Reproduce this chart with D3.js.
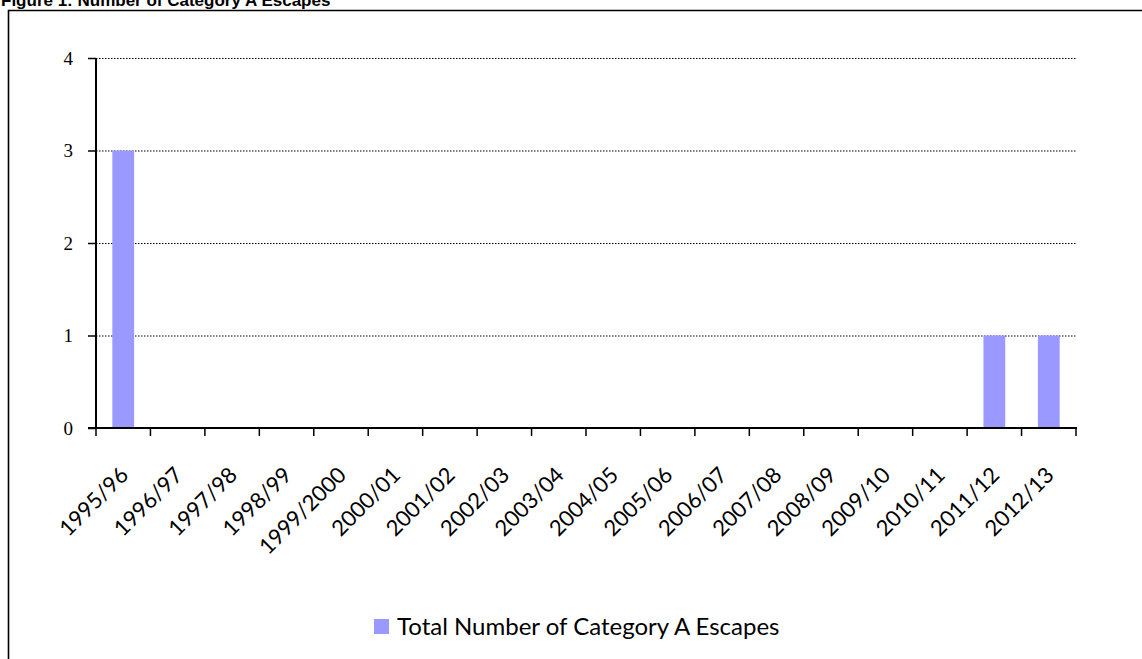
<!DOCTYPE html>
<html>
<head>
<meta charset="utf-8">
<script src="https://cdn.jsdelivr.net/npm/d3@7"></script>
<style>
  html, body { margin: 0; padding: 0; background: #fff; overflow: hidden; }
  svg { display: block; }
</style>
</head>
<body>
<svg id="chart" width="1142" height="659"></svg>
<script>
// data
const years = ['1995/96', '1996/97', '1997/98', '1998/99', '1999/2000', '2000/01',
  '2001/02', '2002/03', '2003/04', '2004/05', '2005/06', '2006/07', '2007/08',
  '2008/09', '2009/10', '2010/11', '2011/12', '2012/13'];
const escapes = [3, 0, 0, 0, 0, 0, 0, 0, 0, 0, 0, 0, 0, 0, 0, 0, 1, 1];
const yTicks = [0, 1, 2, 3, 4];
const seriesName = 'Total Number of Category A Escapes';

const svg = d3.select('#chart'),
      width = +svg.attr('width'),
      height = +svg.attr('height');

const plot = { left: 96, right: 1076, top: 58, bottom: 428 };
const barColor = '#9999ff';

// title, clipped by the top of the page like the original
svg.append('text')
  .attr('x', 1)
  .attr('y', 6)
  .attr('font-family', 'Liberation Sans, Arial, sans-serif')
  .attr('font-weight', 'bold')
  .attr('font-size', 17)
  .text('Figure 1: Number of Category A Escapes');

// frame around chart area (right and bottom edges run off the page)
svg.append('path')
  .attr('d', `M8.5,${height + 2}V10.5H${width + 2}`)
  .attr('fill', 'none')
  .attr('stroke', '#000')
  .attr('stroke-width', 1.6);

const x = d3.scaleBand()
  .domain(years)
  .range([plot.left, plot.right])
  .paddingInner(0.6)
  .paddingOuter(0.3);

const y = d3.scaleLinear()
  .domain([0, 4])
  .range([plot.bottom, plot.top]);

// dotted gridlines
svg.append('g')
  .selectAll('line')
  .data(yTicks.filter((d) => d > 0))
  .enter().append('line')
  .attr('x1', plot.left)
  .attr('x2', plot.right)
  .attr('y1', (d) => y(d) + 0.5)
  .attr('y2', (d) => y(d) + 0.5)
  .attr('stroke', '#000')
  .attr('stroke-width', 1)
  .attr('stroke-dasharray', '1.5,1.5');

// bars
svg.append('g')
  .selectAll('rect')
  .data(escapes)
  .enter().append('rect')
  .attr('x', (d, i) => x(years[i]))
  .attr('y', (d) => y(d))
  .attr('width', x.bandwidth())
  .attr('height', (d) => y(0) - y(d))
  .attr('fill', barColor);

// y axis
const yAxis = svg.append('g')
  .attr('transform', `translate(${plot.left},0)`)
  .call(d3.axisLeft(y).tickValues(yTicks).tickFormat(d3.format('d')).tickSize(8).tickPadding(15));
yAxis.select('.domain').attr('stroke-width', 2).attr('d', `M0,${plot.top}V${plot.bottom}`);
yAxis.selectAll('.tick line').attr('stroke-width', 1.5);
yAxis.selectAll('.tick text')
  .attr('font-family', 'Liberation Serif, Times New Roman, serif')
  .attr('font-size', 19)
  .attr('fill', '#000');

// x axis: ticks sit on category boundaries
const bounds = d3.range(years.length + 1).map((i) => plot.left + i * x.step());
const xAxis = svg.append('g');
xAxis.append('line')
  .attr('x1', plot.left - 8)
  .attr('x2', plot.right + 1)
  .attr('y1', plot.bottom)
  .attr('y2', plot.bottom)
  .attr('stroke', '#000')
  .attr('stroke-width', 2);
xAxis.selectAll('line.tick')
  .data(bounds)
  .enter().append('line')
  .attr('class', 'tick')
  .attr('x1', (d) => d)
  .attr('x2', (d) => d)
  .attr('y1', plot.bottom)
  .attr('y2', plot.bottom + 8)
  .attr('stroke', '#000')
  .attr('stroke-width', 1.5);

xAxis.selectAll('text')
  .data(years)
  .enter().append('text')
  .attr('transform', (d) => `translate(${x(d) + x.bandwidth() / 2 + 1},${plot.bottom + 43}) rotate(-45)`)
  .attr('text-anchor', 'end')
  .attr('dy', '0.35em')
  .attr('font-family', 'Lato, Carlito, Calibri, sans-serif')
  .attr('font-size', 22)
  .attr('fill', '#000')
  .text((d) => d);

// legend
const legend = svg.append('g').attr('transform', 'translate(374,619)');
legend.append('rect')
  .attr('width', 15)
  .attr('height', 15)
  .attr('fill', barColor);
legend.append('text')
  .attr('x', 23)
  .attr('y', 8)
  .attr('dy', '0.35em')
  .attr('font-family', 'Lato, Carlito, Calibri, sans-serif')
  .attr('font-size', 24)
  .attr('fill', '#000')
  .text(seriesName);
</script>
</body>
</html>
